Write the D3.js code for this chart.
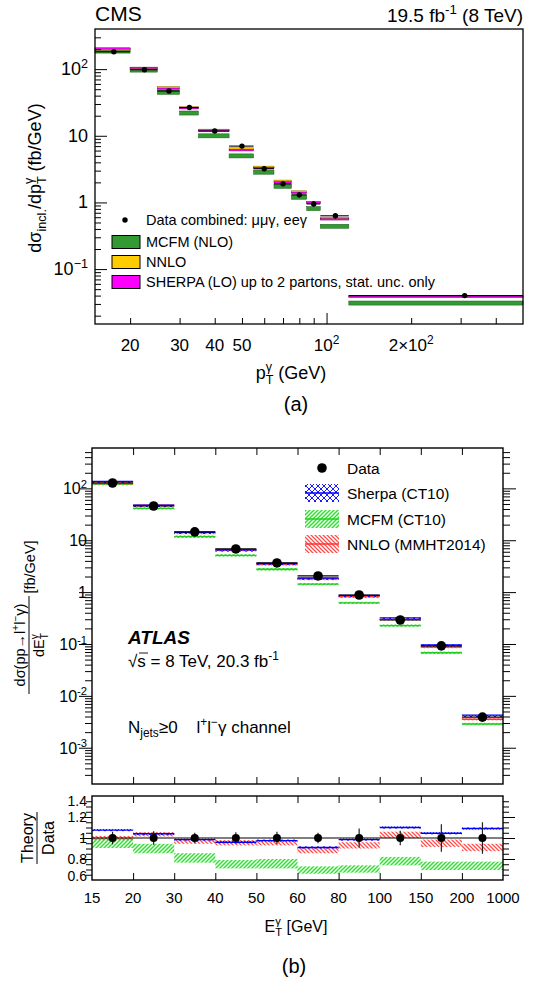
<!DOCTYPE html>
<html><head><meta charset="utf-8">
<script src="https://d3js.org/d3.v7.min.js"></script>
<style>body{margin:0;background:#fff}svg{display:block}text{font-family:"Liberation Sans",Arial,Helvetica,sans-serif;fill:#000}</style>
</head><body><svg id="c" width="543" height="983"></svg>
<script>
// ---------------- DATA: panel (a) CMS ----------------
const aEdges = [15,20,25,30,35,45,55,65,75,85,95,120,500];
const aData = [182,98,47,26.5,11.8,7.0,3.2,1.9,1.3,0.95,0.63,0.040];
const aDataErr = [0.04,0.04,0.05,0.06,0.06,0.07,0.08,0.08,0.09,0.09,0.10,0.08];
const aMCFM = [187,97,45,22,10,5.0,2.85,1.75,1.2,0.81,0.44,0.031];
const aMCFMUnc = [0.07,0.07,0.07,0.07,0.07,0.07,0.07,0.07,0.07,0.07,0.07,0.07];
const aNNLO = [198,103,53,26.5,12.2,6.4,3.4,2.1,1.45,1.0,0.58,0.039];
const aNNLOUnc = [0.03,0.03,0.03,0.03,0.03,0.03,0.03,0.03,0.03,0.03,0.03,0.03];
const aSherpa = [205,105,51,26,12,6.1,3.3,2.0,1.4,1.0,0.56,0.039];
const aSherpaUnc = [0.02,0.02,0.02,0.02,0.02,0.02,0.02,0.02,0.02,0.02,0.02,0.02];
const aXLabels = [[20,"20"],[30,"30"],[40,"40"],[50,"50"],[100,"10|2"],[200,"2×10|2"]];
const aYLabels = [[100,"10|2"],[10,"10"],[1,"1"],[0.1,"10|−1"]];

// ---------------- DATA: panel (b) ATLAS ----------------
const bLabels = ["15","20","30","40","50","60","80","100","150","200","1000"];
const bData = [127,45.7,14.5,6.8,3.65,2.05,0.88,0.29,0.092,0.0039];
const bDataErr = [0.06,0.065,0.05,0.055,0.06,0.05,0.09,0.07,0.13,0.15];
const bSherpaR = [1.075,1.04,0.985,0.96,0.975,0.91,0.985,1.10,1.045,1.09];
const bSherpaU = [0.01,0.01,0.01,0.01,0.01,0.01,0.01,0.01,0.01,0.01];
const bMcfmR = [0.955,0.90,0.81,0.75,0.755,0.695,0.705,0.78,0.735,0.735];
const bMcfmU = [0.05,0.045,0.045,0.04,0.045,0.035,0.035,0.04,0.04,0.04];
const bNnloR = [1.0,1.035,0.965,0.955,0.955,0.88,0.93,1.03,0.95,0.91];
const bNnloU = [0.02,0.02,0.02,0.025,0.025,0.025,0.03,0.03,0.035,0.035];
const bYLabels = [[100,"10|2"],[10,"10"],[1,"1"],[0.1,"10|-1"],[0.01,"10|-2"],[0.001,"10|-3"]];
const bRLabels = [1.4,1.2,1,0.8,0.6];

// ---------------- helpers ----------------
const svg = d3.select('#c');
const defs = svg.append('defs');
function rich(sel, parts, fs){
  let off = 0, pend = 0;
  parts.forEach(p=>{
    if (typeof p === 'string'){
      sel.append('tspan').attr('dy',-off).attr('dx',pend).style('font-size',fs+'px').text(p); off=0; pend=0;
    } else if (p.sup!==undefined){
      const o=-0.4*fs; sel.append('tspan').attr('dy',o-off).attr('dx',pend).style('font-size',(fs*0.7)+'px').text(p.sup); off=o; pend=0;
    } else if (p.sub!==undefined){
      const o=0.25*fs; sel.append('tspan').attr('dy',o-off).attr('dx',pend).style('font-size',(fs*0.7)+'px').text(p.sub); off=o; pend=0;
    } else if (p.supsub){
      const o1=-0.42*fs, o2=0.28*fs;
      const t1=sel.append('tspan').attr('dy',o1-off).attr('dx',pend).style('font-size',(fs*0.7)+'px').text(p.supsub[0]);
      const w1=t1.node().getComputedTextLength();
      const t2=sel.append('tspan').attr('dy',o2-o1).attr('dx',-w1).style('font-size',(fs*0.7)+'px').text(p.supsub[1]);
      const w2=t2.node().getComputedTextLength();
      off=o2; pend=Math.max(0,w1-w2);
    }
  });
  return sel;
}
function lbl(s){ const q=s.split('|'); return q.length>1?[q[0],{sup:q[1]}]:[q[0]]; }
function minorLog(lo,hi){ const r=[]; for(let e=-5;e<=3;e++) for(let k=2;k<=9;k++){const v=k*Math.pow(10,e); if(v>lo&&v<hi) r.push(v);} return r; }
function decades(lo,hi){ const r=[]; for(let e=-5;e<=3;e++){const v=Math.pow(10,e); if(v>=lo&&v<=hi) r.push(v);} return r; }

// ================= PANEL (a) =================
const xA = d3.scaleLog().domain([15,500]).range([95,523]);
const yA = d3.scaleLog().domain([0.015,400]).range([324,29]);
const gA = svg.append('g');
function boxesA(vals,unc,fill,stroke){
  gA.append('g').selectAll('rect').data(vals).join('rect')
    .attr('x',(v,i)=>xA(aEdges[i])).attr('width',(v,i)=>xA(aEdges[i+1])-xA(aEdges[i]))
    .attr('y',(v,i)=>yA(v*(1+unc[i])))
    .attr('height',(v,i)=>Math.max(1.4,yA(v*(1-unc[i]))-yA(v*(1+unc[i]))))
    .attr('fill',fill).attr('stroke',stroke).attr('stroke-width',0.5);
}
boxesA(aMCFM,aMCFMUnc,'#339933','#1d5c1d');
boxesA(aNNLO,aNNLOUnc,'#ffcc00','#7a5f00');
boxesA(aSherpa,aSherpaUnc,'#ff00ff','#7a007a');
const gdA = gA.append('g');
gdA.selectAll('line.h').data(aData).join('line').attr('class','h')
  .attr('x1',(v,i)=>xA(aEdges[i])).attr('x2',(v,i)=>xA(aEdges[i+1]))
  .attr('y1',v=>yA(v)).attr('y2',v=>yA(v)).attr('stroke','#000').attr('stroke-width',1.1);
gdA.selectAll('line.v').data(aData).join('line').attr('class','v')
  .attr('x1',(v,i)=>xA((aEdges[i]+aEdges[i+1])/2)).attr('x2',(v,i)=>xA((aEdges[i]+aEdges[i+1])/2))
  .attr('y1',(v,i)=>yA(v*(1+aDataErr[i]))).attr('y2',(v,i)=>yA(v*(1-aDataErr[i])))
  .attr('stroke','#000').attr('stroke-width',1.1);
gdA.selectAll('circle').data(aData).join('circle')
  .attr('cx',(v,i)=>xA((aEdges[i]+aEdges[i+1])/2)).attr('cy',v=>yA(v)).attr('r',2.7).attr('fill','#000');

// axes (a)
const axA = svg.append('g');
axA.append('g').attr('transform','translate(0,324)')
  .call(d3.axisBottom(xA).tickValues([20,30,40,50,60,70,80,90,200,300,400]).tickSize(-6).tickSizeOuter(0).tickFormat(''));
axA.append('g').attr('transform','translate(0,324)')
  .call(d3.axisBottom(xA).tickValues([100]).tickSize(-11).tickSizeOuter(0).tickFormat(''));
axA.append('g').attr('transform','translate(95,0)')
  .call(d3.axisLeft(yA).tickValues(minorLog(0.015,400)).tickSize(-6).tickSizeOuter(0).tickFormat(''));
axA.append('g').attr('transform','translate(95,0)')
  .call(d3.axisLeft(yA).tickValues(decades(0.015,400)).tickSize(-12).tickSizeOuter(0).tickFormat(''));
axA.selectAll('path.domain').remove();
axA.selectAll('line').attr('stroke','#000').attr('stroke-width',1);
svg.append('rect').attr('x',95).attr('y',29).attr('width',428).attr('height',295)
  .attr('fill','none').attr('stroke','#000').attr('stroke-width',1.3);
aXLabels.forEach(([v,s])=>{
  rich(svg.append('text').attr('x',xA(v)).attr('y',351).attr('text-anchor','middle'), lbl(s), 17);
});
aYLabels.forEach(([v,s])=>{
  rich(svg.append('text').attr('x',88).attr('y',yA(v)+6).attr('text-anchor','end'), lbl(s), 18);
});
svg.append('text').attr('x',95).attr('y',21).style('font-size','21px').text('CMS');
rich(svg.append('text').attr('x',523).attr('y',22).attr('text-anchor','end'), ['19.5 fb',{sup:'-1'},' (8 TeV)'], 19);
rich(svg.append('text').attr('transform','translate(41,178) rotate(-90)').attr('text-anchor','middle'),
  ['dσ',{sub:'incl.'},'/dp',{supsub:['γ','T']},' (fb/GeV)'], 18);
rich(svg.append('text').attr('x',291).attr('y',379).attr('text-anchor','middle'), ['p',{supsub:['γ','T']},' (GeV)'], 18);
svg.append('text').attr('x',296).attr('y',411).attr('text-anchor','middle').style('font-size','20px').text('(a)');

// legend (a)
svg.append('circle').attr('cx',125).attr('cy',220).attr('r',2.7).attr('fill','#000');
svg.append('text').attr('x',146).attr('y',225).style('font-size','14.5px').text('Data combined: μμγ, eeγ');
[['#339933','MCFM (NLO)',242],['#ffcc00','NNLO',262],['#ff00ff','SHERPA (LO) up to 2 partons, stat. unc. only',282]].forEach(([c,t,y])=>{
  svg.append('rect').attr('x',112).attr('y',y-6.5).attr('width',28).attr('height',13).attr('fill',c).attr('stroke','#000').attr('stroke-width',1);
  svg.append('text').attr('x',146).attr('y',y+5).style('font-size','14.5px').text(t);
});

// ================= PANEL (b) =================
const pB = defs.append('pattern').attr('id','hBlue').attr('patternUnits','userSpaceOnUse').attr('width',6).attr('height',6);
pB.append('path').attr('d','M0,0L6,6M6,0L0,6').attr('stroke','#1a1aff').attr('stroke-width',1);
const pG = defs.append('pattern').attr('id','hGreen').attr('patternUnits','userSpaceOnUse').attr('width',4).attr('height',4);
pG.append('path').attr('d','M-1,1L1,-1M0,4L4,0M3,5L5,3').attr('stroke','#33dd33').attr('stroke-width',1.5);
const pR = defs.append('pattern').attr('id','hRed').attr('patternUnits','userSpaceOnUse').attr('width',4).attr('height',4);
pR.append('path').attr('d','M-1,3L1,5M0,0L4,4M3,-1L5,1').attr('stroke','#ff4d4d').attr('stroke-width',1.3);

const xB = d3.scaleLinear().domain([0,bLabels.length-1]).range([92,503]);
const yB = d3.scaleLog().domain([2e-4,600]).range([784,448]);
const yR = d3.scaleLinear().domain([0.6,1.4]).range([880,796]);
const idx = d3.range(bData.length);

function bandB(ratio,unc,pat,col,yS,mult){
  const g=svg.append('g');
  g.selectAll('rect').data(idx).join('rect')
    .attr('x',i=>xB(i)).attr('width',i=>xB(i+1)-xB(i))
    .attr('y',i=>yS(mult(i)*(ratio[i]+unc[i])))
    .attr('height',i=>Math.max(2,yS(mult(i)*(ratio[i]-unc[i]))-yS(mult(i)*(ratio[i]+unc[i]))))
    .attr('fill','url(#'+pat+')');
  g.selectAll('line').data(idx).join('line')
    .attr('x1',i=>xB(i)).attr('x2',i=>xB(i+1))
    .attr('y1',i=>yS(mult(i)*ratio[i])).attr('y2',i=>yS(mult(i)*ratio[i]))
    .attr('stroke',col).attr('stroke-width',1.4);
}
// main
bandB(bMcfmR,bMcfmU,'hGreen','#22cc22',yB,i=>bData[i]);
bandB(bNnloR,bNnloU,'hRed','#ff3333',yB,i=>bData[i]);
bandB(bSherpaR,bSherpaU,'hBlue','#0000ff',yB,i=>bData[i]);
const gdB = svg.append('g');
gdB.selectAll('line.h').data(bData).join('line')
  .attr('x1',(v,i)=>xB(i)).attr('x2',(v,i)=>xB(i+1)).attr('y1',v=>yB(v)).attr('y2',v=>yB(v))
  .attr('stroke','#000').attr('stroke-width',1.2);
gdB.selectAll('line.v').data(bData).join('line').attr('class','v')
  .attr('x1',(v,i)=>xB(i+0.5)).attr('x2',(v,i)=>xB(i+0.5))
  .attr('y1',(v,i)=>yB(v*(1+bDataErr[i]))).attr('y2',(v,i)=>yB(v*(1-bDataErr[i])))
  .attr('stroke','#000').attr('stroke-width',1.2);
gdB.selectAll('circle').data(bData).join('circle')
  .attr('cx',(v,i)=>xB(i+0.5)).attr('cy',v=>yB(v)).attr('r',4.8).attr('fill','#000');

// ratio
bandB(bMcfmR,bMcfmU,'hGreen','none',yR,i=>1);
bandB(bNnloR,bNnloU,'hRed','none',yR,i=>1);
bandB(bSherpaR,bSherpaU,'hBlue','#0000ff',yR,i=>1);
svg.append('line').attr('x1',92).attr('x2',503).attr('y1',yR(1)).attr('y2',yR(1)).attr('stroke','#000').attr('stroke-width',1.2);
const gdR = svg.append('g');
gdR.selectAll('line').data(idx).join('line')
  .attr('x1',i=>xB(i+0.5)).attr('x2',i=>xB(i+0.5))
  .attr('y1',i=>yR(1+bDataErr[i])).attr('y2',i=>yR(1-bDataErr[i]))
  .attr('stroke','#222').attr('stroke-width',1.2);
gdR.selectAll('circle').data(idx).join('circle')
  .attr('cx',i=>xB(i+0.5)).attr('cy',yR(1)).attr('r',4).attr('fill','#000');

// axes (b)
const axB = svg.append('g');
const edgeIdx = d3.range(1,bLabels.length-1);
[[448,7],[784,-7],[796,7],[880,-7]].forEach(([y,s])=>{
  axB.append('g').attr('transform',`translate(0,${y})`)
    .call(d3.axisBottom(xB).tickValues(edgeIdx).tickSize(s).tickSizeOuter(0).tickFormat(''));
});
[[92,-1],[503,1]].forEach(([x,sg])=>{
  axB.append('g').attr('transform',`translate(${x},0)`)
    .call(d3.axisLeft(yB).tickValues(minorLog(2e-4,600)).tickSize(sg*-7).tickSizeOuter(0).tickFormat(''));
  axB.append('g').attr('transform',`translate(${x},0)`)
    .call(d3.axisLeft(yB).tickValues(decades(2e-4,600)).tickSize(sg*-13).tickSizeOuter(0).tickFormat(''));
  axB.append('g').attr('transform',`translate(${x},0)`)
    .call(d3.axisLeft(yR).tickValues(d3.range(0.65,1.4,0.05).filter(v=>Math.abs(Math.round(v*5)-v*5)>0.01)).tickSize(sg*-6).tickSizeOuter(0).tickFormat(''));
  axB.append('g').attr('transform',`translate(${x},0)`)
    .call(d3.axisLeft(yR).tickValues([0.8,1.0,1.2]).tickSize(sg*-12).tickSizeOuter(0).tickFormat(''));
});
axB.selectAll('path.domain').remove();
axB.selectAll('line').attr('stroke','#000').attr('stroke-width',1);
svg.append('rect').attr('x',92).attr('y',448).attr('width',411).attr('height',336).attr('fill','none').attr('stroke','#000').attr('stroke-width',1.4);
svg.append('rect').attr('x',92).attr('y',796).attr('width',411).attr('height',84).attr('fill','none').attr('stroke','#000').attr('stroke-width',1.4);

bYLabels.forEach(([v,s])=>{
  rich(svg.append('text').attr('x',87).attr('y',yB(v)+6).attr('text-anchor','end'), lbl(s), 16);
});
bRLabels.forEach(v=>{
  let y=yR(v)+5; if(v===1.4) y+=4.5; if(v===0.6) y-=4.5;
  svg.append('text').attr('x',87).attr('y',y).attr('text-anchor','end').style('font-size','14px').text(d3.format('.1f')(v).replace('1.0','1'));
});
bLabels.forEach((s,i)=>{
  svg.append('text').attr('x',xB(i)).attr('y',903).attr('text-anchor','middle').style('font-size','15px').text(s);
});
rich(svg.append('text').attr('x',296).attr('y',932).attr('text-anchor','middle'), ['E',{supsub:['γ','T']},' [GeV]'], 16);
svg.append('text').attr('x',294).attr('y',973).attr('text-anchor','middle').style('font-size','20px').text('(b)');

// y title main
rich(svg.append('text').attr('transform','translate(25,645) rotate(-90)').attr('text-anchor','middle'),
  ['dσ(pp→l',{sup:'+'},'l',{sup:'−'},'γ)'], 14.5);
svg.append('line').attr('x1',29).attr('x2',29).attr('y1',596).attr('y2',694).attr('stroke','#000').attr('stroke-width',1);
rich(svg.append('text').attr('transform','translate(44,645) rotate(-90)').attr('text-anchor','middle'),
  ['dE',{supsub:['γ','T']}], 14.5);
svg.append('text').attr('transform','translate(35,567) rotate(-90)').attr('text-anchor','middle').style('font-size','14.5px').text('[fb/GeV]');
// ratio title
svg.append('text').attr('transform','translate(33,838) rotate(-90)').attr('text-anchor','middle').style('font-size','16px').text('Theory');
svg.append('line').attr('x1',37).attr('x2',37).attr('y1',812).attr('y2',864).attr('stroke','#000').attr('stroke-width',1);
svg.append('text').attr('transform','translate(54,838) rotate(-90)').attr('text-anchor','middle').style('font-size','16px').text('Data');

// ATLAS labels
svg.append('text').attr('x',128).attr('y',644).style('font-size','19px').style('font-weight','bold').style('font-style','italic').text('ATLAS');
rich(svg.append('text').attr('x',128).attr('y',667), ['√s = 8 TeV, 20.3 fb',{sup:'-1'}], 17);
svg.append('line').attr('x1',139).attr('x2',148).attr('y1',653).attr('y2',653).attr('stroke','#000').attr('stroke-width',0.9);
rich(svg.append('text').attr('x',128).attr('y',733), ['N',{sub:'jets'},'≥0    l',{sup:'+'},'l',{sup:'−'},'γ channel'], 17).style('white-space','pre');

// legend (b)
svg.append('circle').attr('cx',322).attr('cy',468).attr('r',4.8).attr('fill','#000');
svg.append('text').attr('x',347).attr('y',474).style('font-size','15.5px').text('Data');
[['hBlue','#0000ff','Sherpa (CT10)',493],['hGreen','#22cc22','MCFM (CT10)',519],['hRed','#ff3333','NNLO (MMHT2014)',544]].forEach(([p,c,t,y])=>{
  svg.append('rect').attr('x',305).attr('y',y-9).attr('width',34).attr('height',18).attr('fill','url(#'+p+')');
  svg.append('line').attr('x1',305).attr('x2',339).attr('y1',y).attr('y2',y).attr('stroke',c).attr('stroke-width',1.5);
  svg.append('text').attr('x',347).attr('y',y+6).style('font-size','15.5px').text(t);
});
</script></body></html>
